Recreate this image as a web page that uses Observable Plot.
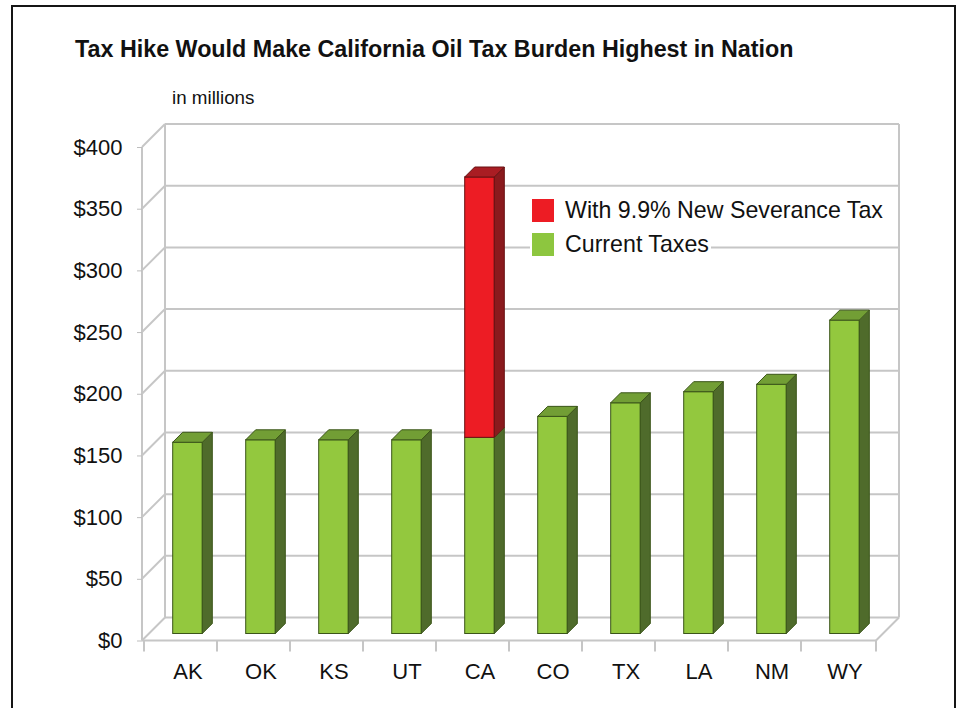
<!DOCTYPE html>
<html>
<head>
<meta charset="utf-8">
<script src="https://cdn.jsdelivr.net/npm/d3@7"></script>
<script src="https://cdn.jsdelivr.net/npm/@observablehq/plot@0.6"></script>
<style>
  html, body { margin: 0; padding: 0; background: #fff; }
  body { font-family: "Liberation Sans", Arial, Helvetica, sans-serif; color: #111; }
  #wrap { position: relative; width: 956px; height: 708px; overflow: hidden; }
  #frame { position: absolute; left: 11px; top: 5px; width: 945px; height: 720px; border: 2px solid #151515; box-sizing: border-box; }
  #title { position: absolute; left: 75px; top: 38px; font-weight: bold; font-size: 23.3px; line-height: 23px; white-space: nowrap; }
  #sub { position: absolute; left: 172px; top: 88px; font-size: 18.8px; line-height: 19px; white-space: nowrap; }
  #chart { position: absolute; left: 0; top: 0; }
  .lg { position: absolute; display: flex; align-items: center; background: #fff; height: 26px; padding: 0 2px; }
  .sw { width: 22px; height: 23px; margin-right: 11px; flex: none; }
  .lt { font-size: 23.2px; line-height: 23px; white-space: nowrap; }
</style>
</head>
<body>
<div id="wrap">
  <div id="frame"></div>
  <div id="title">Tax Hike Would Make California Oil Tax Burden Highest in Nation</div>
  <div id="sub">in millions</div>
  <div id="chart"></div>
  <div class="lg" style="left:530px;top:197px;"><span class="sw" style="background:#ed1c24"></span><span class="lt">With 9.9% New Severance Tax</span></div>
  <div class="lg" style="left:530px;top:231px;"><span class="sw" style="background:#8dc63f"></span><span class="lt">Current Taxes</span></div>
</div>
<script>
// ---- data ----
const states = ["AK", "OK", "KS", "UT", "CA", "CO", "TX", "LA", "NM", "WY"];
const currentTaxes = [155, 157, 157, 157, 159, 176, 187, 196, 202, 254];
const withNewTax = [null, null, null, null, 370, null, null, null, null, null];
const yTicks = [0, 50, 100, 150, 200, 250, 300, 350, 400];

// ---- styles ----
const GREEN = {front: "#93c83e", side: "#4f6b2b", top: "#729e35", line: "#3b5519"};
const RED = {front: "#ed1c24", side: "#8a1a1d", top: "#a91d23", line: "#681112"};
const WALL = 23;      // depth of the chart box (px)
const FRONT = 7;      // depth where bar fronts sit (px)
const BAR_DEPTH = 10; // bar thickness in depth (px)
const INSET = 21.7;   // inset of bars inside band (px)

const greenRows = states.map((s, i) => ({state: s, y1: 0, y2: currentTaxes[i]}));
const redRows = states
  .map((s, i) => ({state: s, y1: currentTaxes[i], y2: withNewTax[i]}))
  .filter(d => d.y2 != null);

function walls(index, {x, y}, values, {width, marginLeft, marginRight}) {
  const x0 = marginLeft, x1 = width - marginRight;
  const g = d3.create("svg:g").attr("fill", "none").attr("stroke", "#c6c6c6").attr("stroke-width", 2);
  const y0 = y(0), yTop = y(yTicks[yTicks.length - 1]);
  for (const t of yTicks) {
    const yy = y(t);
    g.append("line").attr("x1", x0 + WALL).attr("x2", x1 + WALL).attr("y1", yy - WALL).attr("y2", yy - WALL);
    g.append("line").attr("x1", x0).attr("x2", x0 + WALL).attr("y1", yy).attr("y2", yy - WALL);
  }
  // verticals
  g.append("line").attr("x1", x0).attr("x2", x0).attr("y1", y0).attr("y2", yTop);
  g.append("line").attr("x1", x0 + WALL).attr("x2", x0 + WALL).attr("y1", y0 - WALL).attr("y2", yTop - WALL);
  g.append("line").attr("x1", x1 + WALL).attr("x2", x1 + WALL).attr("y1", y0 - WALL).attr("y2", yTop - WALL);
  // floor front edge + right diagonal
  g.append("line").attr("x1", x0).attr("x2", x1).attr("y1", y0).attr("y2", y0);
  g.append("line").attr("x1", x1).attr("x2", x1 + WALL).attr("y1", y0).attr("y2", y0 - WALL);
  // category boundary ticks
  const bounds = states.map(s => x(s)).concat([x1]);
  for (const bx of bounds) {
    g.append("line").attr("x1", bx).attr("x2", bx).attr("y1", y0).attr("y2", y0 + 11);
  }
  return g.node();
}

function prisms(index, {x, y}) {
  const g = d3.create("svg:g").attr("stroke-width", 1).attr("stroke-linejoin", "round");
  const bw = x.bandwidth();
  states.forEach((s, i) => {
    const xl = x(s) + INSET + FRONT;
    const xr = x(s) + bw - INSET + FRONT;
    const segs = [{v0: 0, v1: currentTaxes[i], c: GREEN}];
    if (withNewTax[i] != null) segs.push({v0: currentTaxes[i], v1: withNewTax[i], c: RED});
    segs.forEach((sg, k) => {
      const yb = y(sg.v0) - FRONT, yt = y(sg.v1) - FRONT;
      const d = BAR_DEPTH;
      g.append("path")
        .attr("d", `M${xr},${yb}L${xr},${yt}L${xr + d},${yt - d}L${xr + d},${yb - d}Z`)
        .attr("fill", sg.c.side).attr("stroke", sg.c.line);
      if (k === segs.length - 1) {
        g.append("path")
          .attr("d", `M${xl},${yt}L${xl + d},${yt - d}L${xr + d},${yt - d}L${xr},${yt}Z`)
          .attr("fill", sg.c.top).attr("stroke", sg.c.line);
      }
    });
  });
  return g.node();
}

const chart = Plot.plot({
  width: 956,
  height: 708,
  marginLeft: 142,
  marginRight: 80,
  marginTop: 147,
  marginBottom: 67.5,
  style: {background: "transparent", fontFamily: "'Liberation Sans', Arial, Helvetica, sans-serif", color: "#111", overflow: "visible"},
  x: {domain: states, padding: 0, label: null},
  y: {domain: [0, 400], label: null},
  marks: [
    walls,
    Plot.axisY(yTicks, {tickFormat: d => "$" + d, tickSize: 5, tickPadding: 15, fontSize: 22, stroke: "#bdbdbd", fill: "#111", label: null}),
    Plot.axisX({tickSize: 0, tickPadding: 22, fontSize: 22, dx: 7, fill: "#111", label: null}),
    Plot.barY(greenRows, {x: "state", y1: "y1", y2: "y2", fill: GREEN.front, stroke: GREEN.line, strokeWidth: 1, insetLeft: INSET, insetRight: INSET, dx: FRONT, dy: -FRONT}),
    Plot.barY(redRows, {x: "state", y1: "y1", y2: "y2", fill: RED.front, stroke: RED.line, strokeWidth: 1, insetLeft: INSET, insetRight: INSET, dx: FRONT, dy: -FRONT}),
    prisms
  ]
});
document.getElementById("chart").appendChild(chart);
</script>
</body>
</html>
